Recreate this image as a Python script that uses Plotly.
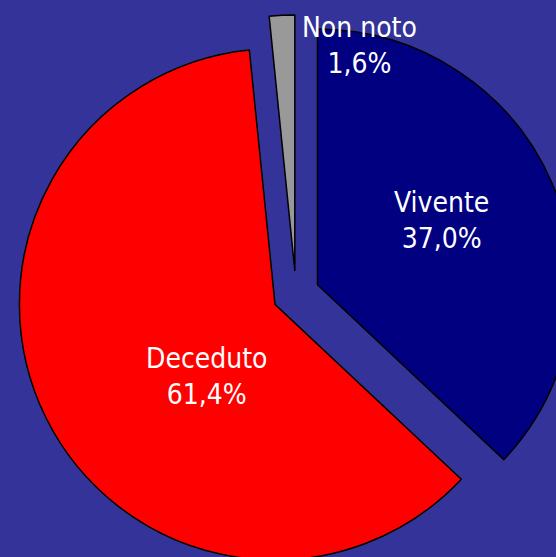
import plotly.graph_objects as go

labels = ["Vivente", "Deceduto", "Non noto"]
values = [37.0, 61.4, 1.6]
colors = ["#000080", "#FF0000", "#999999"]
pulls = [0.0916, 0.0916, 0.0916]

total = sum(values)
texts = [f"{l}<br>{v / total * 100:.1f}%".replace(".", ",") for l, v in zip(labels, values)]

# label placement (paper coordinates) for each slice's text
label_pos = {
    "Vivente": (0.7616, 0.6326),
    "Deceduto": (0.3405, 0.352),
    "Non noto": (0.614, 0.9448),
}

FONT = "DejaVu Sans Condensed, DejaVu Sans, sans-serif"

fig = go.Figure(go.Pie(
    labels=labels,
    values=values,
    textinfo="none",
    sort=False,
    direction="clockwise",
    rotation=0,
    pull=pulls,
    marker=dict(colors=colors, line=dict(color="#000000", width=1.5)),
    showlegend=False,
    hoverinfo="label+percent",
))

for lab, txt in zip(labels, texts):
    x, y = label_pos[lab]
    fig.add_annotation(
        x=x, y=y, xref="paper", yref="paper",
        xanchor="center", yanchor="middle",
        text=txt,
        showarrow=False,
        font=dict(family=FONT, size=28, color="white"),
        align="center",
    )

fig.update_layout(
    width=592, height=589,
    margin=dict(l=17, r=17, t=15, b=16),
    paper_bgcolor="#333399",
    plot_bgcolor="#333399",
    separators=",.",
)

fig.write_html(
    "out.html",
    config={"displayModeBar": False},
    post_script="document.body.style.margin='0';document.body.style.overflow='hidden';document.documentElement.style.overflow='hidden';",
)
